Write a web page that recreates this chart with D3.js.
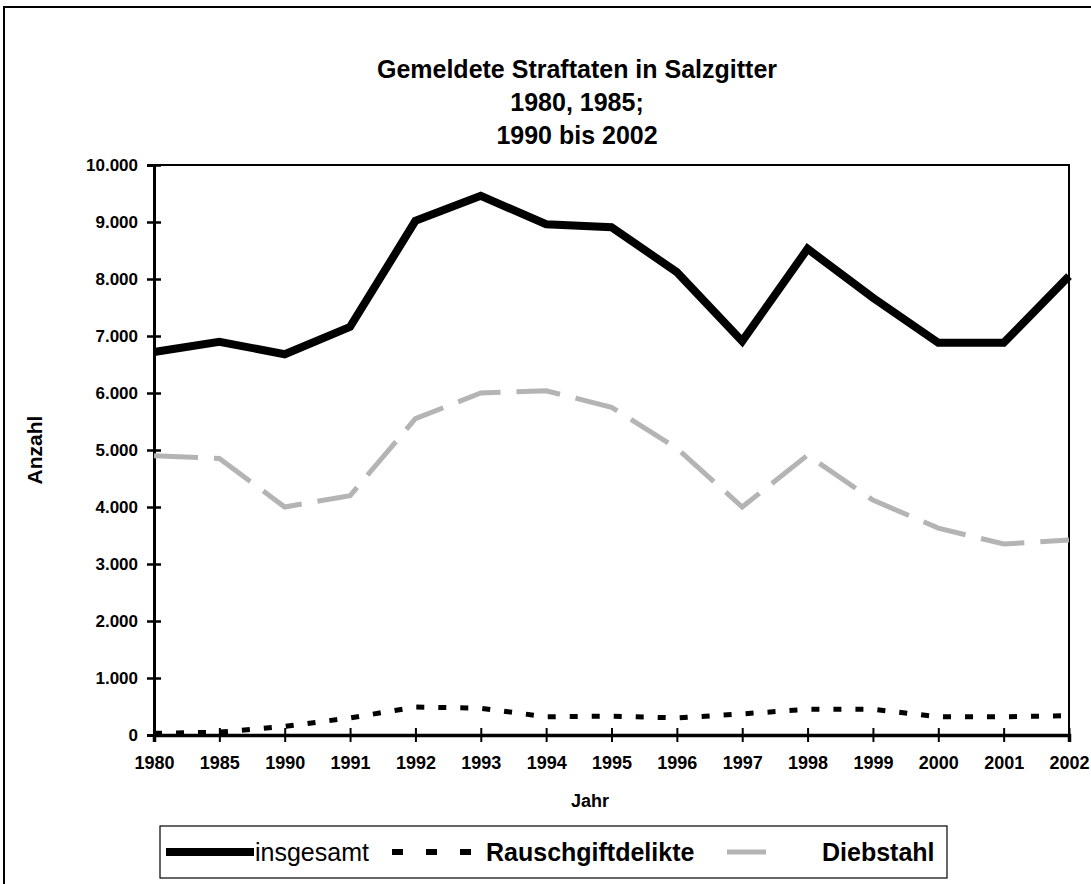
<!DOCTYPE html>
<html>
<head>
<meta charset="utf-8">
<script src="https://cdn.jsdelivr.net/npm/d3@7"></script>
<style>
  body { margin: 0; background: #fff; }
  svg { font-family: 'Liberation Sans', Arial, sans-serif; }
</style>
</head>
<body>
<div id="chart"></div>
<script>
const years = ['1980', '1985', '1990', '1991', '1992', '1993', '1994', '1995', '1996', '1997', '1998', '1999', '2000', '2001', '2002'];
const insgesamt = [6720, 6900, 6680, 7160, 9020, 9460, 8960, 8910, 8120, 6910, 8530, 7670, 6880, 6880, 8050];
const rauschgift = [30, 50, 150, 300, 490, 470, 320, 330, 300, 370, 450, 450, 320, 320, 340];
const diebstahl = [4900, 4850, 4000, 4200, 5550, 6000, 6040, 5750, 5030, 4000, 4910, 4120, 3630, 3350, 3420];
const yTicks = [0, 1000, 2000, 3000, 4000, 5000, 6000, 7000, 8000, 9000, 10000];
const titleLines = ['Gemeldete Straftaten in Salzgitter', '1980, 1985;', '1990 bis 2002'];

const width = 1091, height = 884;
const plotLeft = 154, plotRight = 1069, plotTop = 165, plotBottom = 735;

const svg = d3.select('#chart').append('svg')
  .attr('width', width)
  .attr('height', height);

// outer frame (only top and left edges visible in the scan)
svg.append('rect')
  .attr('x', 4).attr('y', 7)
  .attr('width', 1200).attr('height', 1000)
  .attr('fill', 'none')
  .attr('stroke', '#000')
  .attr('stroke-width', 2);

svg.append('g')
  .selectAll('text')
  .data(titleLines)
  .join('text')
  .attr('x', 577)
  .attr('y', (d, i) => 78 + i * 33)
  .attr('text-anchor', 'middle')
  .style('font-size', '25px')
  .style('font-weight', 'bold')
  .text(d => d);

const x = d3.scalePoint().domain(years).range([plotLeft, plotRight]);
const y = d3.scaleLinear().domain([0, 10000]).range([plotBottom, plotTop]);

// top and right border of plot area
svg.append('path')
  .attr('d', `M${plotLeft},${plotTop}H${plotRight}V${plotBottom}`)
  .attr('fill', 'none')
  .attr('stroke', '#000')
  .attr('stroke-width', 2);

const fmt = v => d3.format(',')(v).replace(/,/g, '.');

const yAxis = svg.append('g')
  .attr('transform', `translate(${plotLeft},0)`)
  .call(d3.axisLeft(y).tickValues(yTicks).tickSize(7).tickPadding(8).tickFormat(fmt));
yAxis.select('.domain').attr('stroke-width', 3);
yAxis.selectAll('.tick line').attr('x2', 7).attr('x1', -7).attr('stroke-width', 2.5);
yAxis.selectAll('.tick text')
  .attr('x', -16)
  .style('font-size', '17px')
  .style('font-weight', 'bold')
  .attr('fill', '#000');

const xAxis = svg.append('g')
  .attr('transform', `translate(0,${plotBottom})`)
  .call(d3.axisBottom(x).tickSize(7).tickPadding(14));
xAxis.select('.domain').attr('stroke-width', 3.5);
xAxis.selectAll('.tick line').attr('y1', -7).attr('y2', 7).attr('stroke-width', 2);
xAxis.selectAll('.tick text')
  .style('font-size', '18px')
  .style('font-weight', 'bold')
  .attr('fill', '#000');

svg.append('text')
  .attr('transform', 'translate(42,450) rotate(-90)')
  .attr('text-anchor', 'middle')
  .style('font-size', '21px')
  .style('font-weight', 'bold')
  .text('Anzahl');

svg.append('text')
  .attr('x', 590)
  .attr('y', 807)
  .attr('text-anchor', 'middle')
  .style('font-size', '18px')
  .style('font-weight', 'bold')
  .text('Jahr');

const line = d3.line()
  .x((d, i) => x(years[i]))
  .y(d => y(d));

svg.append('path')
  .datum(diebstahl)
  .attr('fill', 'none')
  .attr('stroke', '#b4b4b4')
  .attr('stroke-width', 5)
  .attr('stroke-dasharray', '44,16')
  .attr('d', line);

svg.append('path')
  .datum(rauschgift)
  .attr('fill', 'none')
  .attr('stroke', '#000')
  .attr('stroke-width', 5)
  .attr('stroke-dasharray', '8,14')
  .attr('d', line);

svg.append('path')
  .datum(insgesamt)
  .attr('fill', 'none')
  .attr('stroke', '#000')
  .attr('stroke-width', 8)
  .attr('stroke-linejoin', 'miter')
  .attr('d', line);

// legend
const legend = svg.append('g');
legend.append('rect')
  .attr('x', 160).attr('y', 826)
  .attr('width', 787).attr('height', 52)
  .attr('fill', 'none')
  .attr('stroke', '#000')
  .attr('stroke-width', 1.2);

const legendItems = [
  { name: 'insgesamt', x1: 166, x2: 254, tx: 255, stroke: '#000', w: 8, dash: null, weight: 'normal' },
  { name: 'Rauschgiftdelikte', x1: 392, x2: 472, tx: 486, stroke: '#000', w: 6, dash: '11,23', weight: 'bold' },
  { name: 'Diebstahl', x1: 727, x2: 766, tx: 822, stroke: '#b4b4b4', w: 5, dash: null, weight: 'bold' }
];
legend.selectAll('line')
  .data(legendItems)
  .join('line')
  .attr('x1', d => d.x1).attr('x2', d => d.x2)
  .attr('y1', 852).attr('y2', 852)
  .attr('stroke', d => d.stroke)
  .attr('stroke-width', d => d.w)
  .attr('stroke-dasharray', d => d.dash);
legend.selectAll('text')
  .data(legendItems)
  .join('text')
  .attr('x', d => d.tx)
  .attr('y', 861)
  .style('font-size', '25px')
  .style('font-weight', d => d.weight)
  .text(d => d.name);
</script>
</body>
</html>
